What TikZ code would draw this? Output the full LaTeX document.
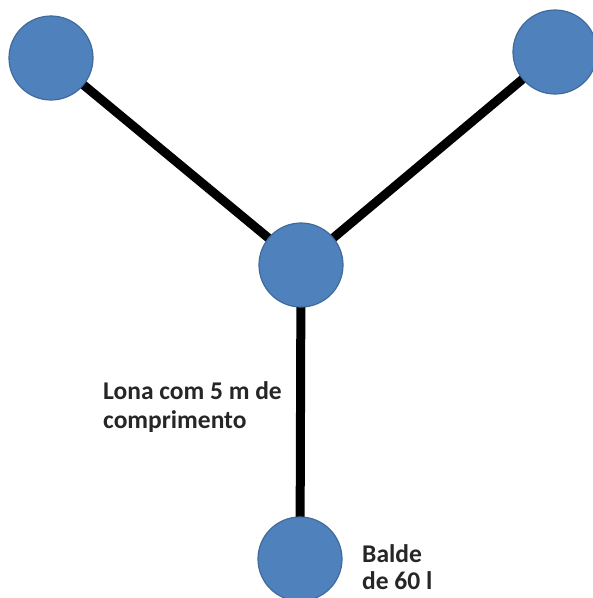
\documentclass[tikz,border=0pt]{standalone}
\usepackage{fontspec}
\setmainfont{Carlito}
\definecolor{ballfill}{HTML}{4F81BD}
\definecolor{balldraw}{HTML}{3F6A9C}
\definecolor{txt}{HTML}{262626}
\begin{document}
\begin{tikzpicture}[x=1pt,y=-1pt,
  ball/.style={circle,fill=ballfill,draw=balldraw,line width=1.2pt,minimum size=84pt,inner sep=0pt},
  rope/.style={line width=9pt,black},
  lbl/.style={font=\bfseries\fontsize{25.5}{29}\selectfont,text=txt,align=left,inner sep=0pt,anchor=base west}]
\useasboundingbox (0,0) rectangle (593,598);
\coordinate (ctl) at (51,58);
\coordinate (ctr) at (555,52);
\coordinate (cc) at (301,265);
\coordinate (cb) at (300,559);
\draw[rope] (ctl) -- (cc);
\draw[rope] (ctr) -- (cc);
\draw[rope] (cc) -- (cb);
\node[ball] (tl) at (ctl) {};
\node[ball] (tr) at (ctr) {};
\node[ball] (c) at (cc) {};
\node[ball] (b) at (cb) {};
\node[lbl] (lona) at (103,428) {Lona com 5 m de\\comprimento};
\node[lbl,font=\bfseries\fontsize{25.5}{27}\selectfont] (balde) at (362,589) {Balde\\de 60 l};
\end{tikzpicture}
\end{document}
